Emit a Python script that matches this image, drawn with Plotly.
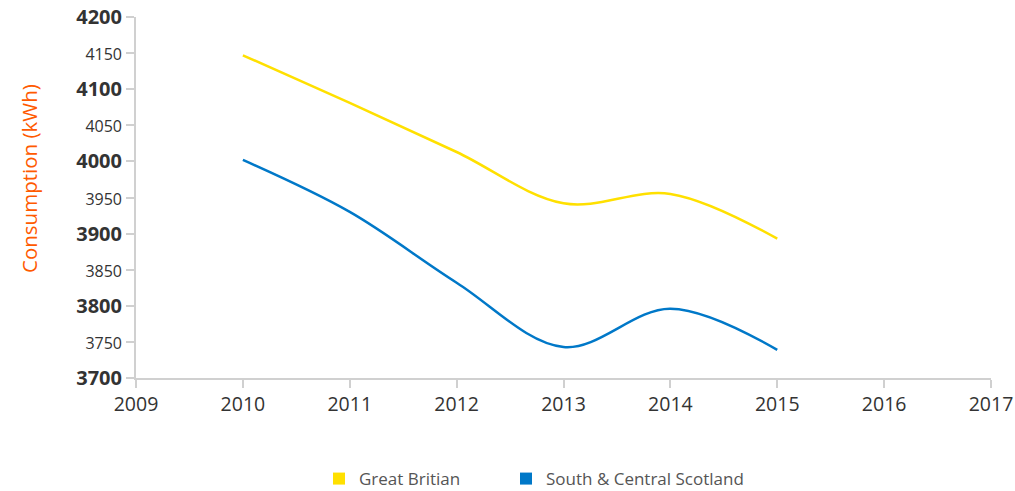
import plotly.graph_objects as go

years = [2010, 2011, 2012, 2013, 2014, 2015]
great_britain = [4147, 4081, 4013, 3942, 3955, 3893]
south_central_scotland = [4002, 3930, 3832, 3743, 3796, 3739]

y_tick_vals = [3700, 3750, 3800, 3850, 3900, 3950, 4000, 4050, 4100, 4150, 4200]
x_tick_vals = [2009, 2010, 2011, 2012, 2013, 2014, 2015, 2016, 2017]

def ylabel(v):
    if v % 100 == 0:
        return "<b>%d</b>" % v
    return "<span style='font-size:16px'>%d</span>" % v

YELLOW = "#ffe000"
BLUE = "#0078c8"

W, H = 1015, 491
L, T, R, B = 136, 17, 24, 113

fig = go.Figure()
fig.add_trace(go.Scatter(x=years, y=great_britain, mode="lines",
                         line=dict(color=YELLOW, width=2.5, shape="spline", smoothing=1.0),
                         showlegend=False, name="Great Britian"))
fig.add_trace(go.Scatter(x=years, y=south_central_scotland, mode="lines",
                         line=dict(color=BLUE, width=2.5, shape="spline", smoothing=1.0),
                         showlegend=False, name="South & Central Scotland"))
fig.add_trace(go.Scatter(x=[None], y=[None], mode="markers", name="Great Britian", legend="legend",
                         marker=dict(symbol="square", size=12, color=YELLOW)))
fig.add_trace(go.Scatter(x=[None], y=[None], mode="markers", name="South & Central Scotland",
                         legend="legend2",
                         marker=dict(symbol="square", size=12, color=BLUE)))

legend_font = dict(size=17, color="#555555")
fig.update_layout(
    width=W, height=H,
    margin=dict(l=L, r=R, t=T, b=B, autoexpand=False),
    paper_bgcolor="white", plot_bgcolor="white",
    font=dict(family="Open Sans", color="#333333"),
    legend=dict(orientation="h", x=(339 - 20 - 136) / 855, xanchor="left", y=-0.23, yanchor="top",
                font=legend_font),
    legend2=dict(orientation="h", x=(526 - 20 - 136) / 855, xanchor="left", y=-0.23, yanchor="top",
                 font=legend_font),
    annotations=[dict(text="Consumption (kWh)", textangle=-90, xref="paper", yref="paper",
                      x=(29 - 136) / 855, y=(378 - 178) / 361, xanchor="center", yanchor="middle",
                      showarrow=False, font=dict(size=20.5, color="#ff5a00"))],
)
fig.update_xaxes(range=[2009, 2017], tickvals=x_tick_vals, ticktext=[str(v) for v in x_tick_vals],
                 showgrid=False, zeroline=False, showline=True, linecolor="#d0d0d0", linewidth=2,
                 ticks="outside", ticklen=8, tickwidth=2, tickcolor="#d0d0d0", automargin=False,
                 ticklabeloverflow="allow",
                 tickfont=dict(size=19.5, color="#333333"))
fig.update_yaxes(range=[3700, 4200], tickvals=y_tick_vals, ticktext=[ylabel(v) for v in y_tick_vals],
                 showgrid=False, zeroline=False, showline=True, linecolor="#d0d0d0", linewidth=2,
                 ticks="outside", ticklen=8, tickwidth=2, tickcolor="#d0d0d0", automargin=False,
                 ticklabeloverflow="allow",
                 tickfont=dict(size=20, color="#333333"))

fig.write_html("out.html", config={"displayModeBar": False},
               post_script="document.body.style.margin='0';document.body.style.overflow='hidden';")
